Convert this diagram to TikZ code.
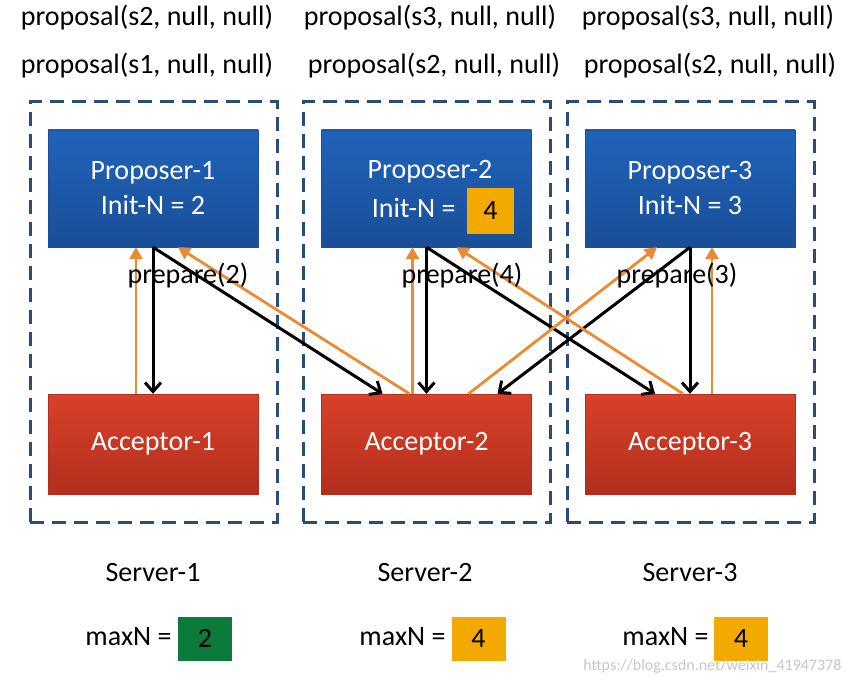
\documentclass[tikz,border=0pt]{standalone}
\usepackage{fontspec}
\setmainfont{Carlito}
\usepackage{tikz}
\usetikzlibrary{arrows.meta}

\definecolor{propblue}{HTML}{1F63BA}
\definecolor{propbluedk}{HTML}{1A4E96}
\definecolor{accred}{HTML}{D8412A}
\definecolor{accreddk}{HTML}{B32E1C}
\definecolor{boxorange}{HTML}{F2A900}
\definecolor{boxgreen}{HTML}{0B7A3B}
\definecolor{arrorange}{HTML}{EC8A33}
\definecolor{dashblue}{HTML}{2B4B7B}

\tikzset{
  proposer/.style={rectangle, top color=propblue, bottom color=propbluedk, draw=propbluedk,
    minimum width=210pt, minimum height=117pt, text=white, align=center, font=\fontsize{28}{35}\selectfont},
  acceptor/.style={rectangle, top color=accred, bottom color=accreddk, draw=accreddk,
    minimum width=210pt, minimum height=100pt, text=white, font=\fontsize{28}{34}\selectfont},
  serverbox/.style={rectangle, draw=dashblue, line width=3pt, dash pattern=on 14pt off 8pt,
    minimum width=247pt, minimum height=420pt},
  numbox/.style={rectangle, minimum width=54pt, minimum height=44pt, font=\fontsize{28}{34}\selectfont},
  txt/.style={font=\fontsize{28}{34}\selectfont},
  prep/.style={line width=3pt, black, -{Straight Barb[length=9pt,width=16pt,line width=3pt]}},
  prom/.style={line width=2.8pt, arrorange, -{Triangle[length=12pt,width=13pt]}}
}

\begin{document}
\begin{tikzpicture}[x=1pt, y=-1pt]
        \useasboundingbox (0,0) rectangle (853,684);

        % Proposals
        \node[txt] (q12) at (147,18) {proposal(s2, null, null)};
        \node[txt] (q11) at (147,66) {proposal(s1, null, null)};
        \node[txt] (q23) at (430,18) {proposal(s3, null, null)};
        \node[txt] (q22) at (434,66) {proposal(s2, null, null)};
        \node[txt] (q33) at (708,18) {proposal(s3, null, null)};
        \node[txt] (q32) at (710,66) {proposal(s2, null, null)};

        % Servers
        \node[serverbox] (s1) at (153.5,312) {};
        \node[serverbox] (s2) at (426.5,312) {};
        \node[serverbox] (s3) at (690.5,312) {};

        % Proposers
        \node[proposer] (p1) at (153,188.5) {Proposer-1\\Init-N = 2};
        \node[proposer] (p2) at (426.5,188.5) {};
        \node[proposer] (p3) at (690,188.5) {Proposer-3\\Init-N = 3};
        \node[txt, text=white] (p2name) at (430,172) {Proposer-2};
        \node[txt, text=white, anchor=east] (p2init) at (459,208) {Init-N =};
        \node[numbox, fill=boxorange, minimum width=47pt, minimum height=46pt] (p2n) at (490.5,211) {4};

        % Acceptors
        \node[acceptor] (a1) at (153,444) {Acceptor-1};
        \node[acceptor] (a2) at (426.5,444) {Acceptor-2};
        \node[acceptor] (a3) at (690,444) {Acceptor-3};

        % Prepare (black)
        \draw[prep] (p1.south) -- (a1.north);
        \draw[prep] (p1.south) -- ([xshift=-44pt]a2.north);
        \draw[prep] (p2.south) -- (a2.north);
        \draw[prep] (p2.south) -- ([xshift=-35pt]a3.north);
        \draw[prep] (p3.south) -- (a3.north);
        \draw[prep] (p3.south) -- ([xshift=71pt]a2.north);

        % Promises (orange)
        \draw[prom] ([xshift=-17pt]a1.north) -- ([xshift=-17pt]p1.south);
        \draw[prom] ([xshift=-17pt]a2.north) -- ([xshift=25pt]p1.south);
        \draw[prom] ([xshift=-14pt]a2.north) -- ([xshift=-14pt]p2.south);
        \draw[prom] ([xshift=-7pt]a3.north) -- ([xshift=30pt]p2.south);
        \draw[prom] ([xshift=22pt]a3.north) -- ([xshift=22pt]p3.south);
        \draw[prom] ([xshift=42pt]a2.north) -- ([xshift=-33pt]p3.south);

        \node[txt] (l1) at (188,276) {prepare(2)};
        \node[txt] (l2) at (462,276) {prepare(4)};
        \node[txt] (l3) at (677,276) {prepare(3)};

        % Server labels
        \node[txt] (n1) at (153,573) {Server-1};
        \node[txt] (n2) at (425,573) {Server-2};
        \node[txt] (n3) at (690,573) {Server-3};

        % maxN
        \node[txt, anchor=east] (m1) at (175,637) {maxN =};
        \node[numbox, fill=boxgreen] (v1) at (205,638.5) {2};
        \node[txt, anchor=east] (m2) at (449,637) {maxN =};
        \node[numbox, fill=boxorange] (v2) at (478.5,638.5) {4};
        \node[txt, anchor=east] (m3) at (712,637) {maxN =};
        \node[numbox, fill=boxorange] (v3) at (741,638.5) {4};

        \node[anchor=east, text=gray!45, font=\fontsize{16}{18}\selectfont] (wm) at (845,666) {https://blog.csdn.net/weixin\_41947378};
\end{tikzpicture}
\end{document}
